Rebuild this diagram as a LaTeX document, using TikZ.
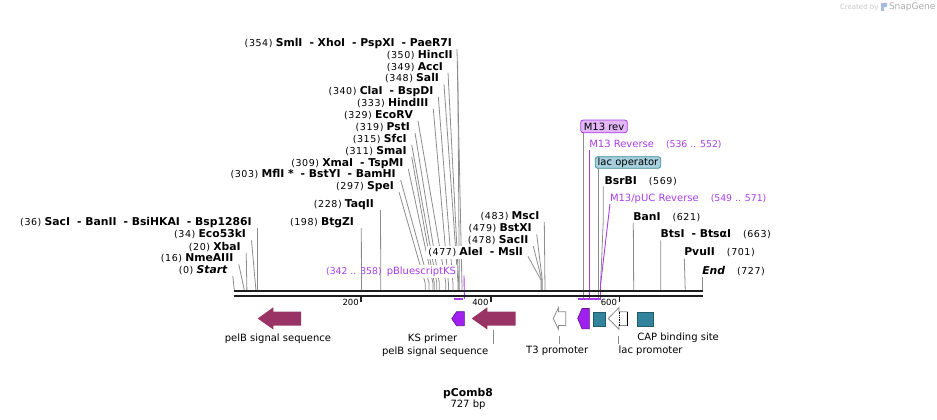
\documentclass[tikz,border=0pt]{standalone}
\usepackage{fontspec}
\setmainfont{DejaVu Sans}
\newfontfamily\numfont[LetterSpace=6]{DejaVu Sans}
\usetikzlibrary{calc}
\definecolor{sigmaroon}{RGB}{153,51,102}
\definecolor{primerpurple}{RGB}{160,32,240}
\definecolor{txtpurple}{RGB}{168,62,232}
\definecolor{boxpurple}{RGB}{227,182,246}
\definecolor{featteal}{RGB}{49,132,155}
\definecolor{boxteal}{RGB}{166,208,221}
\definecolor{edgeteal}{RGB}{70,138,156}
\definecolor{linegray}{RGB}{140,140,140}
\definecolor{axisdark}{RGB}{30,30,30}
\newcommand\enznum[1]{{\numfont\fontsize{9.5}{10}\selectfont(#1)}}
\newcommand\rangenum[1]{{\fontsize{9.3}{10}\selectfont(#1)}}
\newcommand\enzname[1]{{\fontsize{10.8}{12}\selectfont\bfseries #1}}
\newcommand\dsep{\hspace{7pt}- }
\pgfdeclarelayer{bg}
\pgfsetlayers{bg,main}
\begin{document}
\begin{tikzpicture}[x=1pt,y=-1pt,
  lbl/.style={inner sep=0pt, outer sep=0pt, font=\fontsize{10}{12}\selectfont},
  lblE/.style={lbl, anchor=base east},
  lblW/.style={lbl, anchor=base west},
  site/.style={draw=linegray, line width=0.8pt},
  psite/.style={draw=txtpurple, line width=0.9pt},
  featlbl/.style={lbl, anchor=base},
  sig/.style={fill=sigmaroon},
  primer/.style={fill=primerpurple, draw=primerpurple!60!black, line width=0.6pt},
  prom/.style={fill=white, draw=linegray, line width=0.8pt},
  tealbox/.style={fill=featteal, draw=featteal!70!black, line width=0.4pt}
]
\useasboundingbox (0,0) rectangle (937,420);

% ---------- central enzyme cluster ----------
\node[lblE] (c1) at (452,46.6) {\enznum{354}~\enzname{SmlI\dsep XhoI\dsep PspXI\dsep PaeR7I}};
\node[lblE] (c2) at (452.7,58.6) {\enznum{350}~\enzname{HincII}};
\node[lblE] (c3) at (443,70.1) {\enznum{349}~\enzname{AccI}};
\node[lblE] (c4) at (439,81.9) {\enznum{348}~\enzname{SalI}};
\node[lblE] (c5) at (433.3,94.3) {\enznum{340}~\enzname{ClaI\dsep BspDI}};
\node[lblE] (c6) at (428.3,106.3) {\enznum{333}~\enzname{HindIII}};
\node[lblE] (c7) at (413,118.3) {\enznum{329}~\enzname{EcoRV}};
\node[lblE] (c8) at (410,130.3) {\enznum{319}~\enzname{PstI}};
\node[lblE] (c9) at (406.7,142.3) {\enznum{315}~\enzname{SfcI}};
\node[lblE] (c10) at (406.7,154.3) {\enznum{311}~\enzname{SmaI}};
\node[lblE] (c11) at (403.3,166.3) {\enznum{309}~\enzname{XmaI\dsep TspMI}};
\node[lblE] (c12) at (395.7,177.6) {\enznum{303}~\enzname{MflI *\dsep BstYI\dsep BamHI}};
\node[lblE] (c13) at (394,189.6) {\enznum{297}~\enzname{SpeI}};
\node[lblE] (c14) at (374,207.6) {\enznum{228}~\enzname{TaqII}};
\node[lblE] (c15) at (354,225.6) {\enznum{198}~\enzname{BtgZI}};

% ---------- left cluster ----------
\node[lblE] (l1) at (251.7,225.3) {\enznum{36}~\enzname{SacI\dsep BanII\dsep BsiHKAI\dsep Bsp1286I}};
\node[lblE] (l2) at (246,237.9) {\enznum{34}~\enzname{Eco53kI}};
\node[lblE] (l3) at (240.7,250.3) {\enznum{20}~\enzname{XbaI}};
\node[lblE] (l4) at (233.3,261.9) {\enznum{16}~\enzname{NmeAIII}};
\node[lblE] (l5) at (227.3,273.6) {\enznum{0}~\enzname{\itshape Start}};

% ---------- right-centre cluster ----------
\node[lblE] (r1) at (539.3,219.3) {\enznum{483}~\enzname{MscI}};
\node[lblE] (r2) at (531.7,231.9) {\enznum{479}~\enzname{BstXI}};
\node[lblE] (r3) at (528.3,243.6) {\enznum{478}~\enzname{SacII}};
\node[lblE, fill=white, inner xsep=2pt, inner ysep=2pt] (r4) at (525,255.9) {\enznum{477}~\enzname{AleI\dsep MslI}};

% pBluescriptKS primer
\node[lblE, fill=white, inner xsep=1pt, inner ysep=2pt, text=txtpurple] (ks) at (457,274.3) {pBluescriptKS};
\node[lblE, text=txtpurple] (ksr) at (381.7,274.3) {\rangenum{342 .. 358}};

% ---------- right labels ----------
\node[lblW] (bsrbi) at (604.7,184.3) {\enzname{BsrBI}\hspace{12pt}\enznum{569}};
\node[lblW] (bani) at (633.3,220.3) {\enzname{BanI}\hspace{12pt}\enznum{621}};
\node[lblW] (btsi) at (660.7,237.9) {\enzname{BtsI\dsep BtsαI}\hspace{12pt}\enznum{663}};
\node[lblW] (pvuii) at (684.3,255.9) {\enzname{PvuII}\hspace{12pt}\enznum{701}};
\node[lblW] (endl) at (702.3,274.3) {\enzname{\itshape End}\hspace{12pt}\enznum{727}};

\node[lblW, text=txtpurple] (m13r) at (589.3,147.6) {M13 Reverse\hspace{12pt}\rangenum{536 .. 552}};
\node[lblW, text=txtpurple] (m13p) at (610,201.9) {M13/pUC Reverse\hspace{12pt}\rangenum{549 .. 571}};

\node[lbl, draw=txtpurple, fill=boxpurple, rounded corners=2.5pt, line width=0.8pt,
  minimum width=46.6pt, minimum height=12.7pt] (m13box) at (604,126.4) {M13 rev};
\node[lbl, draw=edgeteal, fill=boxteal, rounded corners=2.5pt, line width=0.8pt,
  minimum width=65.4pt, minimum height=11.6pt] (lacbox) at (628,162.5) {lac operator};

% ---------- site lines (background) ----------
\begin{pgfonlayer}{bg}
\foreach \n/\p in {c1/461.9,c2/459.3,c3/458.7,c4/458.0,c5/452.9,c6/448.4,c7/445.8,
                    c8/439.3,c9/436.8,c10/434.2,c11/432.9,c12/429.0,c13/425.2}{
  \draw[site] ([xshift=5pt,yshift=-2.5pt]\n.base east) -- (\p,283) -- (\p,290);
}
\draw[site] ([xshift=6.5pt,yshift=-2.5pt]c14.base east) -- (380.8,290);
\draw[site] ([xshift=7.3pt,yshift=-2.5pt]c15.base east) -- (361.5,290);
\foreach \n/\p in {l1/257.2,l2/255.9,l3/246.9,l4/244.3,l5/234.3}{
  \draw[site] ([xshift=5.5pt,yshift=-2.5pt]\n.base east) -- (\p,290);
}
\foreach \n/\p in {r1/544.9,r2/542.3,r3/541.7}{
  \draw[site] ([xshift=5pt,yshift=-2.5pt]\n.base east) -- (\p,280) -- (\p,290);
}
\draw[site] ([xshift=3pt,yshift=-0.5pt]r4.base east) -- (541.0,280) -- (541.0,290);
\draw[site] ([xshift=-1.4pt,yshift=-2pt]bsrbi.base west) -- (603.3,220) -- (600.3,290);
\foreach \n/\p in {bani/633.7,btsi/660.8,pvuii/685.2,endl/702.3}{
  \draw[site] ([yshift=-2.5pt]\n.base west) -- (\p,290);
}
\draw[site] (m13box.south west -| 583.3,0) -- (583.3,299);
\draw[site] (lacbox.south west -| 598.3,0) -- (598.3,299);
% primer site lines
\draw[psite] ([xshift=7pt,yshift=-1pt]ks.base east) -- (464.4,299);
\draw[psite] ([yshift=-2.5pt]m13r.base west) -- (589.3,299);
\draw[psite] ([yshift=-2pt]m13p.base west) -- (600.5,285) -- (600.5,299);
\end{pgfonlayer}

% ---------- axis ----------
\coordinate (a0) at (234,291);
\coordinate (a1) at (702.5,291);
\draw[axisdark, line width=2.8pt] (a0) -- (a1);
\draw[axisdark, line width=1.8pt] ($(a0)+(0,4.6)$) -- ($(a1)+(0,4.6)$);
\foreach \t/\x in {200/361.3,400/491,600/619.5}{
  \draw[axisdark, line width=1.8pt] (\x,296) -- (\x,302);
  \node[lbl, anchor=base east, font=\fontsize{8.5}{10}\selectfont] at (\x-2.5,305.3) {\t};
}

% ---------- primer bars ----------
\draw[txtpurple, line width=1.8pt] (454,299.3) -- (462.8,299.3);
\draw[txtpurple, line width=1.8pt] (578.3,299.3) -- (600.5,299.3);

% ---------- features ----------
\fill[sig] (257.7,318.5) -- (273.3,307.3) -- (273.3,311.7) -- (301,311.7) -- (301,325.5) -- (273.3,325.5) -- (273.3,329.5) -- cycle;
\node[featlbl] (pelb1) at (278,341) {pelB signal sequence};

\path[primer] (451.7,318.7) -- (456.5,311.7) -- (464.3,311.7) -- (464.3,325.7) -- (456.5,325.7) -- cycle;
\node[lbl, anchor=base east] (kslbl) at (457.3,341) {KS primer};

\fill[sig] (471.7,318.5) -- (487.3,307.3) -- (487.3,311.7) -- (515.7,311.7) -- (515.7,325.5) -- (487.3,325.5) -- (487.3,329.5) -- cycle;
\coordinate (pelb2top) at (493.3,329.5);
\node[lbl, anchor=base east] (pelb2) at (488.3,354.3) {pelB signal sequence};
\draw[site] (pelb2top) -- (493.3,344);

\path[prom] (553.3,318.5) -- (558.5,307.5) -- (558.5,311.7) -- (565.7,311.7) -- (565.7,325.5) -- (558.5,325.5) -- (558.5,329.3) -- cycle;
\node[featlbl] (t3) at (557.2,353.6) {T3 promoter};
\coordinate (t3top) at (559.3,336);
\draw[site] (t3top) -- (559.3,344.3);

\path[primer] (577.7,318.5) -- (582,308.5) -- (589.3,308.5) -- (589.3,328.8) -- (582,328.8) -- cycle;

\path[tealbox] (593.3,311.7) rectangle (605,325.7);

\path[prom] (608.3,318.5) -- (619,307.5) -- (619,311.7) -- (627.3,311.7) -- (627.3,325.5) -- (619,325.5) -- (619,329.3) -- cycle;
\draw[black, densely dotted, line width=0.7pt] (619,311.7) -- (619,325.5);
\draw[black, line width=0.8pt] (627.3,311.7) -- (627.3,325.5);
\node[lbl, anchor=base west] (lacp) at (618.6,353.6) {lac promoter};
\coordinate (lacptop) at (618.3,336);
\draw[site] (lacptop) -- (618.3,344.3);

\path[tealbox] (637.3,311.7) rectangle (652.7,325.7);
\node[lbl, anchor=base west] (cap) at (637.3,340.3) {CAP binding site};

% ---------- title ----------
\node[lbl, anchor=base, font=\fontsize{10.8}{12}\selectfont\bfseries] (title) at (468,396.3) {pComb8};
\node[lbl, anchor=base] (size) at (468,407.9) {727 bp};

% ---------- watermark ----------
\node[lbl, anchor=base west, text=gray!45, font=\fontsize{7}{8}\selectfont] (cb) at (840,9.5) {Created by};
\fill[cyan!45!blue!35] (880.5,3) rectangle (884,11.5);
\fill[cyan!45!blue!35] (884,3) -- (887,3) -- (887,6.5) -- (884,7.5) -- cycle;
\node[lbl, anchor=base west, text=gray!65, font=\fontsize{9}{10}\selectfont] (sg) at (889,10) {SnapGene};
\end{tikzpicture}
\end{document}
